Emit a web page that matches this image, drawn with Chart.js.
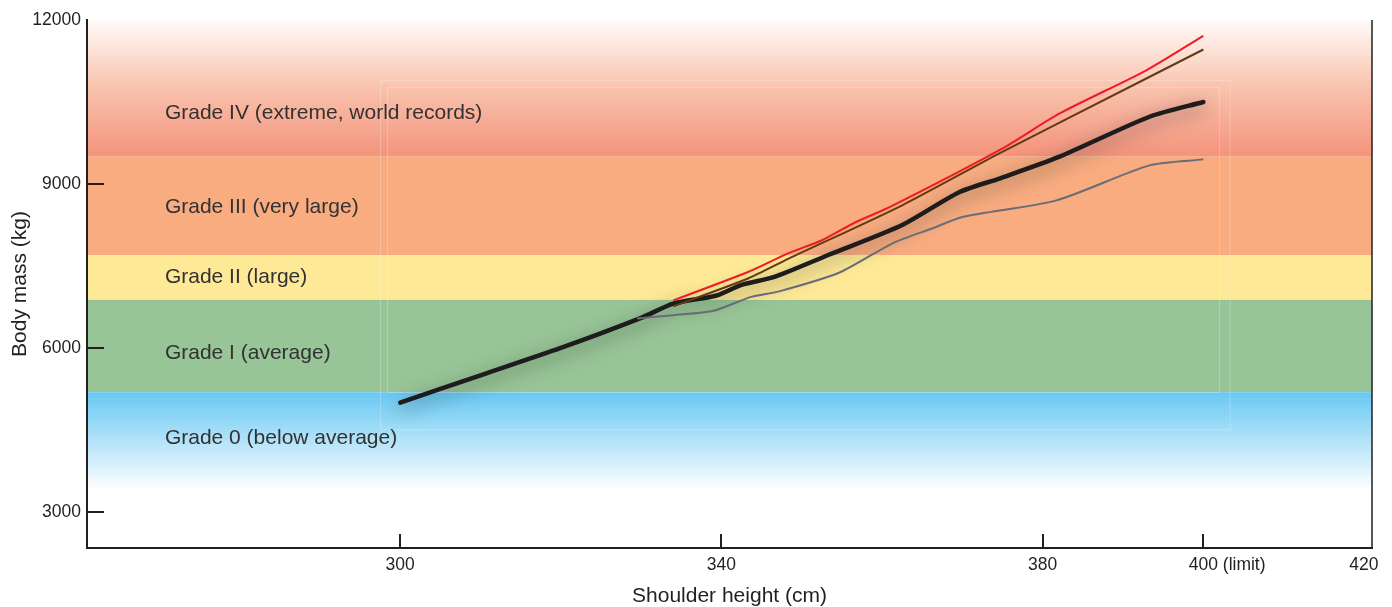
<!DOCTYPE html>
<html lang="en">
<head>
<meta charset="UTF-8">
<title>Shoulder height vs body mass</title>
<style>
  * { margin: 0; padding: 0; }
  body { background: #fff; width: 1392px; height: 607px; overflow: hidden; }
</style>
</head>
<body>
<canvas id="chart" width="1392" height="607"></canvas>
<script src="https://cdn.jsdelivr.net/npm/chart.js@4.4.1/dist/chart.umd.min.js"></script>
<script>
// axis ticks
const xTicks = [300, 340, 380, 400, 420];
const yTicks = [3000, 6000, 9000, 12000];

// series (shoulder height cm -> body mass kg)
const meanX = [300, 310, 320, 330, 334, 339.4, 342.4, 346.6, 353.3, 362.5, 369.6, 374.6, 382.1, 393.3, 400];
const meanY = [5000, 5500, 6000, 6550, 6810, 6960, 7150, 7300, 7700, 8250, 8850, 9100, 9500, 10230, 10500];
const lowX = [329.5, 334, 339, 343.6, 347.3, 354.7, 361.3, 366.3, 370.1, 381.7, 393.3, 400];
const lowY = [6540, 6600, 6680, 6930, 7040, 7380, 7915, 8190, 8400, 8700, 9340, 9450];
const highX = [334, 343.3, 348.3, 352.5, 356.7, 361, 375, 382.1, 392.9, 400];
const highY = [6870, 7390, 7730, 7970, 8300, 8580, 9650, 10290, 11080, 11710];
const upperX = [334, 343.3, 348.3, 362.5, 374.6, 392.9, 400];
const upperY = [6760, 7270, 7630, 8610, 9560, 10930, 11460];

// grade bands
const gradeNames = ['Grade IV (extreme, world records)', 'Grade III (very large)', 'Grade II (large)', 'Grade I (average)', 'Grade 0 (below average)'];
const gradeTop = [12000, 9500, 7700, 6880, 5190];
const gradeBottom = [9500, 7700, 6880, 5190, 3400];
const gradeLabelY = [10290, 8575, 7295, 5905, 4350];
const gradeLabelX = 270.7;

function pts(xs, ys) {
  return xs.map((x, i) => ({ x: x, y: ys[i] }));
}

const ink = '#231f20';

const bandsPlugin = {
  id: 'bands',
  beforeDatasetsDraw(chart) {
    const { ctx, chartArea, scales } = chart;
    const x = scales.x, y = scales.y;
    const l = chartArea.left, w = chartArea.right - chartArea.left;
    ctx.save();
    ctx.beginPath();
    ctx.rect(l, chartArea.top, w, chartArea.bottom - chartArea.top);
    ctx.clip();
    for (let i = 0; i < gradeNames.length; i++) {
      const t = y.getPixelForValue(gradeTop[i]);
      const b = y.getPixelForValue(gradeBottom[i]);
      let fill;
      if (i === 0) {
        fill = ctx.createLinearGradient(0, t, 0, b);
        fill.addColorStop(0, '#fffbf9');
        fill.addColorStop(0.5, '#f9c2ad');
        fill.addColorStop(1, '#f4937b');
      } else if (i === 4) {
        fill = ctx.createLinearGradient(0, t, 0, b);
        fill.addColorStop(0, '#68c8f3');
        fill.addColorStop(1, '#ffffff');
      } else {
        fill = ['', '#f8ac80', '#fde996', '#98c597'][i];
      }
      ctx.fillStyle = fill;
      ctx.fillRect(l, t, w, b - t);
    }
    // faint frames left over in the artwork
    ctx.strokeStyle = 'rgba(255,255,255,0.22)';
    ctx.lineWidth = 1;
    const frames = [[297.5, 403.3, 10900, 4510], [298.4, 402.0, 10770, 5190]];
    frames.forEach(f => {
      const x1 = x.getPixelForValue(f[0]), x2 = x.getPixelForValue(f[1]);
      const y1 = y.getPixelForValue(f[2]), y2 = y.getPixelForValue(f[3]);
      ctx.strokeRect(Math.round(x1) + 0.5, Math.round(y1) + 0.5, x2 - x1, y2 - y1);
    });
    // grade labels
    ctx.fillStyle = '#333132';
    ctx.font = '21px "Liberation Sans", Arial, sans-serif';
    ctx.textAlign = 'left';
    ctx.textBaseline = 'middle';
    for (let i = 0; i < gradeNames.length; i++) {
      ctx.fillText(gradeNames[i], x.getPixelForValue(gradeLabelX), y.getPixelForValue(gradeLabelY[i]));
    }
    ctx.restore();
  },
  beforeDatasetDraw(chart, args) {
    if (args.index === 3) {
      const ctx = chart.ctx;
      ctx.save();
      ctx.shadowColor = 'rgba(40,40,40,0.6)';
      ctx.shadowBlur = 18;
      ctx.shadowOffsetY = 5;
    }
  },
  afterDatasetDraw(chart, args) {
    if (args.index === 3) chart.ctx.restore();
  },
  afterDraw(chart) {
    const { ctx, chartArea, scales } = chart;
    const x = scales.x, y = scales.y;
    ctx.save();
    ctx.strokeStyle = ink;
    ctx.lineWidth = 2;
    ctx.beginPath();
    // left axis line again, on top of the bands
    ctx.moveTo(chartArea.left, chartArea.top);
    ctx.lineTo(chartArea.left, chartArea.bottom);
    // inner tick marks
    [300, 340, 380, 400].forEach(v => {
      const px = Math.round(x.getPixelForValue(v));
      ctx.moveTo(px, chartArea.bottom);
      ctx.lineTo(px, chartArea.bottom - 14);
    });
    [3000, 6000, 9000].forEach(v => {
      const py = Math.round(y.getPixelForValue(v));
      ctx.moveTo(chartArea.left, py);
      ctx.lineTo(chartArea.left + 17, py);
    });
    ctx.stroke();
    // right frame
    ctx.lineWidth = 1.5;
    ctx.beginPath();
    ctx.moveTo(chartArea.right, chartArea.top);
    ctx.lineTo(chartArea.right, chartArea.bottom + 1);
    ctx.stroke();
    // "(limit)" after the 400 tick label
    ctx.font = '17.5px "Liberation Sans", Arial, sans-serif';
    ctx.fillStyle = ink;
    ctx.textAlign = 'left';
    ctx.textBaseline = 'middle';
    const px = x.getPixelForValue(400) + ctx.measureText('400').width / 2;
    ctx.fillText(' (limit)', px, chartArea.bottom + 7 + 10.5);
    ctx.restore();
  }
};

const lineOpts = { pointRadius: 0, tension: 0.25, fill: false };

new Chart(document.getElementById('chart'), {
  type: 'line',
  data: {
    datasets: [
      Object.assign({ label: 'lower', data: pts(lowX, lowY), borderColor: '#676c76', borderWidth: 2 }, lineOpts),
      Object.assign({ label: 'upper', data: pts(upperX, upperY), borderColor: '#633a14', borderWidth: 2 }, lineOpts),
      Object.assign({ label: 'high', data: pts(highX, highY), borderColor: '#ed1c24', borderWidth: 2 }, lineOpts),
      Object.assign({ label: 'mean', data: pts(meanX, meanY), borderColor: '#1e1c1d', borderWidth: 4.5, borderCapStyle: 'round' }, lineOpts)
    ]
  },
  options: {
    responsive: false,
    animation: false,
    events: [],
    layout: { padding: { top: 20, right: 20, left: 0, bottom: 0 } },
    plugins: { legend: { display: false }, tooltip: { enabled: false } },
    scales: {
      x: {
        type: 'linear',
        min: 261,
        max: 421,
        afterBuildTicks: s => { s.ticks = xTicks.map(v => ({ value: v })); },
        afterFit: s => { s.height = 59; },
        grid: { display: false, drawTicks: false },
        border: { display: true, color: ink, width: 2 },
        ticks: {
          color: ink,
          padding: 7,
          maxRotation: 0,
          autoSkip: false,
          font: { family: '"Liberation Sans", Arial, sans-serif', size: 17.5 },
          callback: v => String(v)
        },
        title: {
          display: true,
          text: 'Shoulder height (cm)',
          color: ink,
          font: { family: '"Liberation Sans", Arial, sans-serif', size: 21, lineHeight: 1 },
          padding: { top: 0, bottom: 0 }
        }
      },
      y: {
        type: 'linear',
        min: 2340,
        max: 12000,
        afterBuildTicks: s => { s.ticks = yTicks.map(v => ({ value: v })); },
        afterFit: s => { s.width = 87; },
        grid: { display: false, drawTicks: false },
        border: { display: true, color: ink, width: 2 },
        ticks: {
          color: ink,
          padding: 6,
          autoSkip: false,
          font: { family: '"Liberation Sans", Arial, sans-serif', size: 17.5 },
          callback: v => String(v)
        },
        title: {
          display: true,
          text: 'Body mass (kg)',
          color: ink,
          font: { family: '"Liberation Sans", Arial, sans-serif', size: 21, lineHeight: 1 },
          padding: { top: 10, bottom: 0 }
        }
      }
    }
  },
  plugins: [bandsPlugin]
});
</script>
</body>
</html>
